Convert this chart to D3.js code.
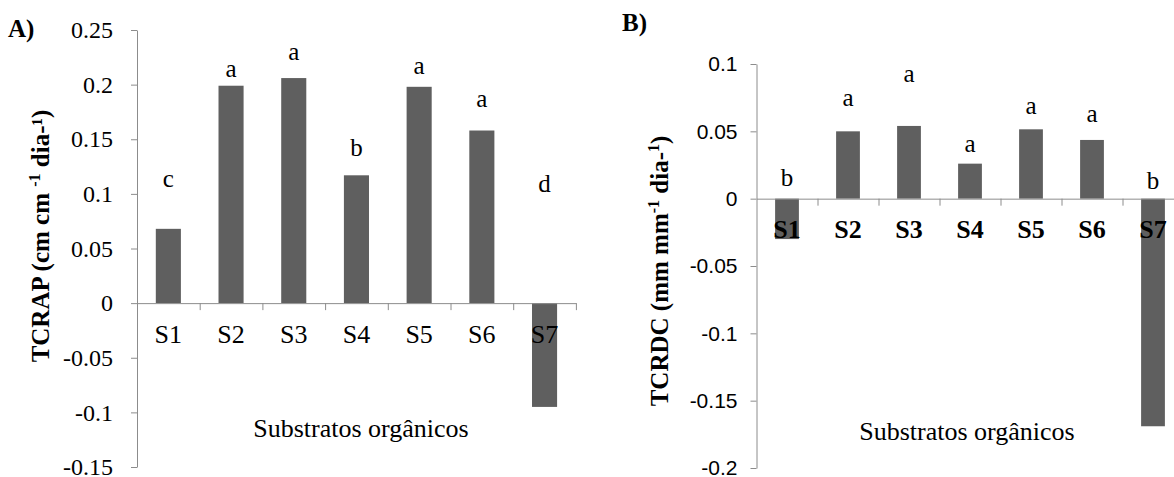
<!DOCTYPE html>
<html>
<head>
<meta charset="utf-8">
<script src="https://cdn.jsdelivr.net/npm/d3@7"></script>
<style>
  body { margin: 0; background: #fff; }
  svg text { fill: #000; }
</style>
</head>
<body>
<div id="root"></div>
<script>
// categories shared by both panels
const categories = ["S1", "S2", "S3", "S4", "S5", "S6", "S7"];

// panel A - TCRAP
const valuesA = [0.068, 0.199, 0.206, 0.117, 0.198, 0.158, -0.095];
const lettersA = ["c", "a", "a", "b", "a", "a", "d"];
const letterLevelA = [0.106, 0.207, 0.2225, 0.1346, 0.2097, 0.1795, 0.1016];
const yTicksA = [0.25, 0.2, 0.15, 0.1, 0.05, 0, -0.05, -0.1, -0.15];
const yTickLabelsA = ["0.25", "0.2", "0.15", "0.1", "0.05", "0", "-0.05", "-0.1", "-0.15"];

// panel B - TCRDC
const valuesB = [-0.03, 0.050, 0.054, 0.026, 0.0515, 0.0436, -0.169];
const lettersB = ["b", "a", "a", "a", "a", "a", "b"];
const letterLevelB = [0.0097, 0.0685, 0.0869, 0.0349, 0.0632, 0.0572, 0.0074];
const yTicksB = [0.1, 0.05, 0, -0.05, -0.1, -0.15, -0.2];
const yTickLabelsB = ["0.1", "0.05", "0", "-0.05", "-0.1", "-0.15", "-0.2"];

const xTitle = "Substratos orgânicos";

const width = 1174;
const height = 477;
const barColor = "#5f5f5f";
const axisColor = "#8c8c8c";
const serif = "'Liberation Serif', 'Times New Roman', serif";
const sans = "'Liberation Sans', Arial, sans-serif";

const svg = d3.select("#root")
  .append("svg")
  .attr("width", width)
  .attr("height", height);

function drawPanel(opt) {
  const g = svg.append("g");

  const y = d3.scaleLinear()
    .domain([opt.yTicks[opt.yTicks.length - 1], opt.yTicks[0]])
    .range([opt.bottom, opt.top]);

  const x = d3.scaleBand()
    .domain(categories)
    .range([opt.left, opt.left + opt.band * categories.length])
    .padding(0);

  const edges = d3.scaleLinear()
    .domain([0, categories.length])
    .range([opt.left, opt.left + opt.band * categories.length]);

  // y axis
  const yAxis = d3.axisLeft(y)
    .tickValues(opt.yTicks)
    .tickSize(6)
    .tickSizeOuter(0)
    .tickPadding(opt.tickPad)
    .tickFormat((d, i) => opt.yTickLabels[i]);

  const ya = g.append("g")
    .attr("transform", `translate(${opt.left},0)`)
    .call(yAxis);
  ya.select(".domain").attr("stroke", axisColor);
  ya.selectAll(".tick line").attr("stroke", axisColor);
  ya.selectAll(".tick text")
    .attr("font-family", opt.tickFont)
    .attr("font-size", opt.tickSize)
    .attr("fill", "#000");

  // bars
  g.selectAll(".bar")
    .data(opt.values)
    .enter()
    .append("rect")
    .attr("class", "bar")
    .attr("x", (d, i) => x(categories[i]) + x.bandwidth() * (1 - opt.barFrac) / 2)
    .attr("width", x.bandwidth() * opt.barFrac)
    .attr("y", d => y(Math.max(0, d)))
    .attr("height", d => Math.abs(y(d) - y(0)))
    .attr("fill", barColor);

  // x axis line with boundary ticks
  const xAxis = d3.axisBottom(edges)
    .tickValues(d3.range(1, categories.length + 1))
    .tickSize(7)
    .tickSizeOuter(0)
    .tickFormat("");
  const xa = g.append("g")
    .attr("transform", `translate(0,${y(0)})`)
    .call(xAxis);
  xa.select(".domain").attr("stroke", axisColor);
  xa.selectAll(".tick line").attr("stroke", axisColor);

  // category labels
  g.selectAll(".cat")
    .data(categories)
    .enter()
    .append("text")
    .attr("class", "cat")
    .attr("x", d => x(d) + x.bandwidth() / 2)
    .attr("y", opt.catY)
    .attr("text-anchor", "middle")
    .attr("font-family", serif)
    .attr("font-size", opt.catSize)
    .attr("font-weight", opt.catWeight)
    .text(d => d);

  // significance letters
  g.selectAll(".letter")
    .data(opt.letters)
    .enter()
    .append("text")
    .attr("class", "letter")
    .attr("x", (d, i) => x(categories[i]) + x.bandwidth() / 2)
    .attr("y", (d, i) => y(opt.letterLevel[i]))
    .attr("text-anchor", "middle")
    .attr("font-family", serif)
    .attr("font-size", 25)
    .text(d => d);

  // x title
  g.append("text")
    .attr("x", opt.xTitleX)
    .attr("y", opt.xTitleY)
    .attr("text-anchor", "middle")
    .attr("font-family", serif)
    .attr("font-size", 26)
    .text(xTitle);

  // y title
  const yt = g.append("text")
    .attr("transform", `translate(${opt.yTitleX},${opt.yTitleY}) rotate(-90)`)
    .attr("text-anchor", "middle")
    .attr("font-family", serif)
    .attr("font-size", 25)
    .attr("font-weight", "bold");
  opt.yTitle.forEach(part => {
    yt.append("tspan")
      .attr("dy", part.dy || 0)
      .attr("font-size", part.size || 25)
      .text(part.t);
  });

  // panel letter
  g.append("text")
    .attr("x", opt.tagX)
    .attr("y", opt.tagY)
    .attr("font-family", serif)
    .attr("font-size", 25)
    .attr("font-weight", "bold")
    .text(opt.tag);
}

drawPanel({
  values: valuesA, letters: lettersA, letterLevel: letterLevelA,
  yTicks: yTicksA, yTickLabels: yTickLabelsA,
  top: 30, bottom: 467, left: 137, band: 62.7, barFrac: 0.4,
  tickPad: 18, tickFont: serif, tickSize: 24,
  catY: 343, catSize: 26, catWeight: "normal",
  xTitleX: 361, xTitleY: 437,
  yTitleX: 49, yTitleY: 236,
  yTitle: [
    { t: "TCRAP (cm cm " },
    { t: "-1", size: 16, dy: -9 },
    { t: " dia-¹)", dy: 9 }
  ],
  tag: "A)", tagX: 8, tagY: 37
});

drawPanel({
  values: valuesB, letters: lettersB, letterLevel: letterLevelB,
  yTicks: yTicksB, yTickLabels: yTickLabelsB,
  top: 64, bottom: 468, left: 756.5, band: 61, barFrac: 0.39,
  tickPad: 13, tickFont: sans, tickSize: 21,
  catY: 238, catSize: 26, catWeight: "bold",
  xTitleX: 967, xTitleY: 440,
  yTitleX: 668, yTitleY: 271,
  yTitle: [
    { t: "TCRDC (mm mm" },
    { t: "-1", size: 16, dy: -9 },
    { t: "  dia-", dy: 9 },
    { t: "1", size: 16, dy: -9 },
    { t: ")", dy: 9 }
  ],
  tag: "B)", tagX: 622, tagY: 31
});
</script>
</body>
</html>
